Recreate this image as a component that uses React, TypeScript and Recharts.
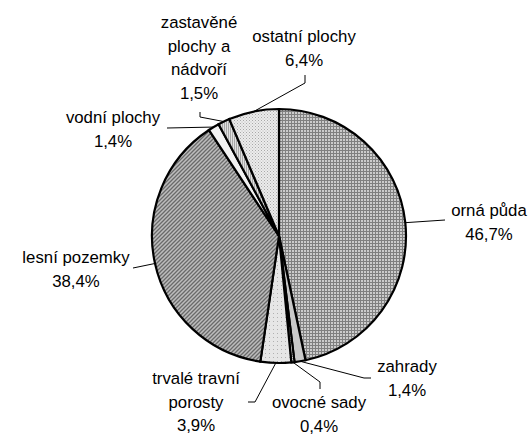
import React from 'react';
import { PieChart, Pie, Cell } from 'recharts';

// land categories, clockwise from 12 o'clock
const categories = [
  'orná půda',
  'zahrady',
  'ovocné sady',
  'trvalé travní\nporosty',
  'lesní pozemky',
  'vodní plochy',
  'zastavěné\nplochy a\nnádvoří',
  'ostatní plochy',
];
const shares = [46.7, 1.4, 0.4, 3.9, 38.4, 1.4, 1.5, 6.4];

const data = categories.map((name, i) => ({ name, value: shares[i] }));

const fills = [
  'url(#pGrid)',
  '#c9c9c9',
  'url(#pFine)',
  'url(#pDots)',
  'url(#pDiag)',
  '#f2f2f2',
  'url(#pVert)',
  'url(#pCheck)',
];

// where each label sits and how its leader bends (label x, first baseline, leader points after the slice edge)
const labelLayout: Record<number, { x: number; y: number; path: [number, number][] }> = {
  0: { x: 489, y: 216, path: [[445, 220]] },
  1: { x: 407, y: 372, path: [[364, 378], [371, 378]] },
  2: { x: 319, y: 408, path: [[320, 382], [320, 389]] },
  3: { x: 196, y: 384, path: [[255, 402], [248, 402]] },
  4: { x: 76, y: 263, path: [[133, 268]] },
  5: { x: 113, y: 123, path: [[167, 128]] },
  6: { x: 199, y: 28, path: [[200, 117], [200, 112]] },
  7: { x: 304, y: 42, path: [[305, 83], [305, 75]] },
};

const RADIAN = Math.PI / 180;
const LINE_H = 23.5;

const renderLabel = (props: any) => {
  const { cx, cy, midAngle, outerRadius, index, value, name } = props;
  const layout = labelLayout[index];
  if (!layout) return null;
  const sx = cx + outerRadius * Math.cos(-midAngle * RADIAN);
  const sy = cy + outerRadius * Math.sin(-midAngle * RADIAN);
  const pts = [[sx, sy], ...layout.path].map((p) => p.join(',')).join(' ');
  const lines = [...String(name).split('\n'), `${Number(value).toFixed(1).replace('.', ',')}%`];
  return (
    <g key={`lbl-${index}`}>
      <polyline points={pts} fill="none" stroke="#000" strokeWidth={1} />
      <text
        x={layout.x}
        y={layout.y}
        textAnchor="middle"
        fill="#000"
        fontSize={16.8}
        fontFamily="'Liberation Sans', Arial, sans-serif"
      >
        {lines.map((ln, i) => (
          <tspan key={i} x={layout.x} y={layout.y + i * LINE_H}>
            {ln}
          </tspan>
        ))}
      </text>
    </g>
  );
};

export default function App() {
  return (
    <div style={{ position: 'absolute', left: 0, top: 0, width: 531, height: 436, background: '#fff' }}>
      <PieChart width={531} height={436} margin={{ top: 0, right: 0, bottom: 0, left: 0 }}>
        <defs>
          <pattern id="pGrid" width="3" height="3" patternUnits="userSpaceOnUse">
            <rect width="3" height="3" fill="#cccccc" />
            <rect width="3" height="1" fill="#808080" />
            <rect width="1" height="3" fill="#808080" />
          </pattern>
          <pattern id="pDiag" width="4" height="4" patternUnits="userSpaceOnUse">
            <rect width="4" height="4" fill="#bdbdbd" />
            <path d="M0,4 L4,0 M-1,1 L1,-1 M3,5 L5,3" stroke="#6a6a6a" strokeWidth="1.3" />
          </pattern>
          <pattern id="pDots" width="4" height="4" patternUnits="userSpaceOnUse">
            <rect width="4" height="4" fill="#e6e6e6" />
            <rect x="1" y="1" width="1" height="1" fill="#b0b0b0" />
          </pattern>
          <pattern id="pCheck" width="3" height="3" patternUnits="userSpaceOnUse">
            <rect width="3" height="3" fill="#ececec" />
            <rect x="0" y="0" width="1" height="1" fill="#a8a8a8" />
            <rect x="1.5" y="1.5" width="1" height="1" fill="#b8b8b8" />
          </pattern>
          <pattern id="pVert" width="2" height="2" patternUnits="userSpaceOnUse">
            <rect width="2" height="2" fill="#e0e0e0" />
            <rect width="1" height="2" fill="#a8a8a8" />
          </pattern>
          <pattern id="pFine" width="2" height="2" patternUnits="userSpaceOnUse">
            <rect width="2" height="2" fill="#ffffff" />
            <rect width="1" height="1" fill="#999" />
          </pattern>
        </defs>
        <Pie
          data={data}
          dataKey="value"
          nameKey="name"
          cx={279}
          cy={236}
          outerRadius={127}
          startAngle={90}
          endAngle={-270}
          stroke="#000"
          strokeWidth={2.2}
          label={renderLabel}
          labelLine={false}
          isAnimationActive={false}
        >
          {data.map((d, i) => (
            <Cell key={d.name} fill={fills[i]} />
          ))}
        </Pie>
      </PieChart>
    </div>
  );
}
